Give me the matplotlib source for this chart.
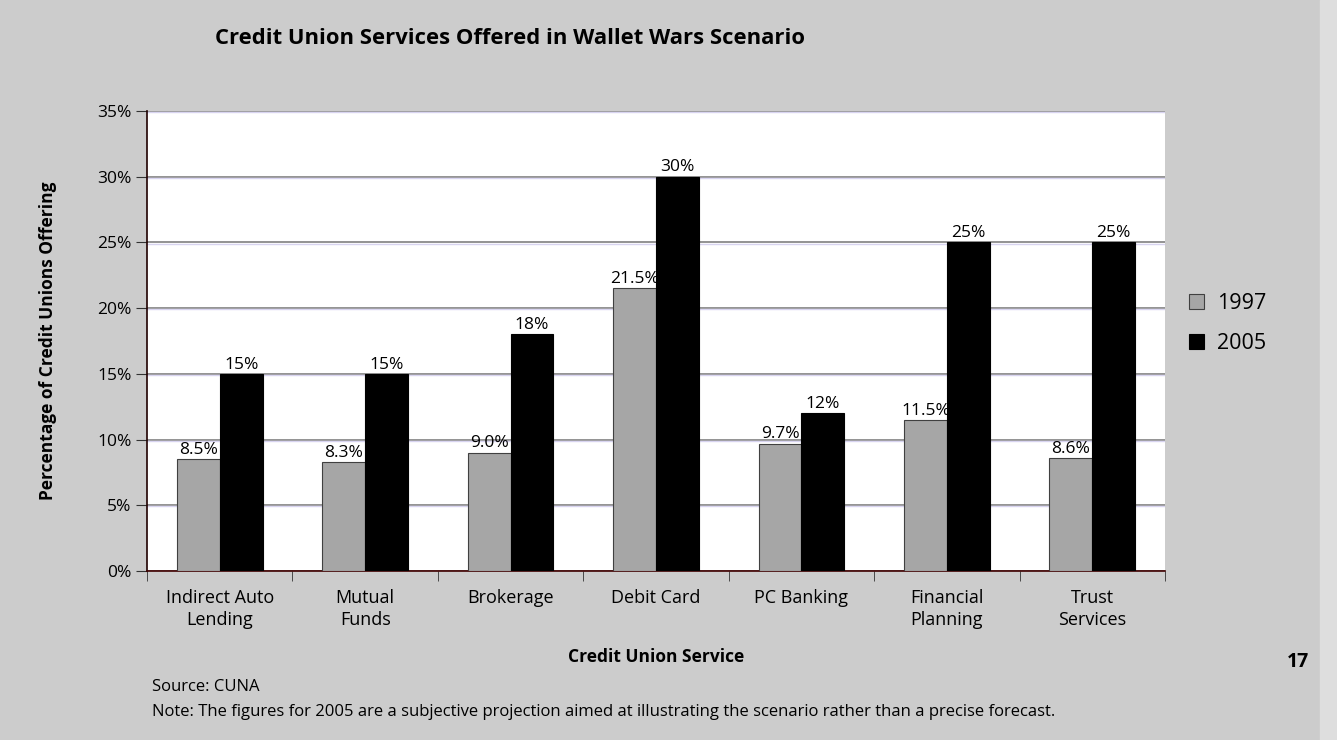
import matplotlib.pyplot as plt
import numpy as np
from matplotlib.ticker import FixedLocator, FuncFormatter

# Servicios y porcentajes de cooperativas que los ofrecen
services = ["Indirect Auto\nLending", "Mutual\nFunds", "Brokerage", "Debit Card",
            "PC Banking", "Financial\nPlanning", "Trust\nServices"]
pct_1997 = [8.5, 8.3, 9.0, 21.5, 9.7, 11.5, 8.6]
pct_2005 = [15, 15, 18, 30, 12, 25, 25]
labels_1997 = ["8.5%", "8.3%", "9.0%", "21.5%", "9.7%", "11.5%", "8.6%"]
labels_2005 = ["15%", "15%", "18%", "30%", "12%", "25%", "25%"]

plt.rcParams['font.family'] = ['Open Sans', 'DejaVu Sans']

fig = plt.figure(figsize=(13.37, 7.4), dpi=100)
fig.patch.set_facecolor('#cccccc')
# franja clara del borde derecho
fig.add_artist(plt.Rectangle((1320 / 1337, 0), 1 - 1320 / 1337, 1,
                             transform=fig.transFigure, color='#dedede', zorder=0))

ax = fig.add_axes([147 / 1337, 1 - 571 / 740, (1165 - 147) / 1337, (571 - 111) / 740])
ax.set_facecolor('white')

x = np.arange(len(services))
w = 0.295
b1 = ax.bar(x - w / 2, pct_1997, w, color='#a6a6a6', edgecolor='#404040', linewidth=0.8, zorder=3)
b2 = ax.bar(x + w / 2, pct_2005, w, color='black', edgecolor='black', linewidth=0.8, zorder=3)

for bar, lab in zip(b1, labels_1997):
    ax.text(bar.get_x() + bar.get_width() / 2, bar.get_height() + 0.1, lab,
            ha='center', va='bottom', fontsize=12.5)
for bar, lab in zip(b2, labels_2005):
    ax.text(bar.get_x() + bar.get_width() / 2, bar.get_height() + 0.1, lab,
            ha='center', va='bottom', fontsize=12.5)

ax.set_xlim(-0.5, len(services) - 0.5)
ax.set_ylim(0, 35)
ax.set_yticks(np.arange(0, 36, 5))
ax.yaxis.set_major_formatter(FuncFormatter(lambda v, p: f"{v:.0f}%"))
# linea gris con un filo lila debajo
for v in np.arange(5, 36, 5):
    ax.axhline(v - 0.09, color='#d8d4f0', linewidth=1.0, zorder=1)
ax.yaxis.grid(True, color='#808080', linewidth=1.2, zorder=1)
ax.set_axisbelow(True)

ax.set_xticks(x)
ax.set_xticklabels(services, fontsize=13, linespacing=1.25)
ax.xaxis.set_minor_locator(FixedLocator(np.arange(-0.5, len(services), 1.0)))
ax.tick_params(axis='x', which='major', length=0, pad=13)
ax.tick_params(axis='x', which='minor', length=7, direction='out', color='#333333')
ax.tick_params(axis='y', length=8, direction='out', labelsize=12.5, pad=3, color='#333333')

for side in ['top', 'right']:
    ax.spines[side].set_visible(False)
ax.spines['left'].set_color('#200000')
ax.spines['bottom'].set_color('#400000')
ax.spines['left'].set_linewidth(1.2)
ax.spines['bottom'].set_linewidth(1.2)

ax.set_xlabel("Credit Union Service", fontsize=12.5, fontweight='bold', labelpad=14)
ax.set_ylabel("Percentage of Credit Unions Offering", fontsize=12.5, fontweight='bold', labelpad=29)

leg = fig.legend([b1, b2], ["1997", "2005"], loc='upper left',
                 bbox_to_anchor=(1170 / 1337, 1 - 274 / 740), frameon=False,
                 fontsize=15.5, handlelength=0.7, handleheight=0.7, labelspacing=0.85,
                 handletextpad=0.6)

fig.text(215 / 1337, 1 - 39 / 740, "Credit Union Services Offered in Wallet Wars Scenario",
         fontsize=15.8, fontweight='bold', va='center', ha='left')
fig.text(152 / 1337, 1 - 687 / 740, "Source: CUNA", fontsize=12, va='center')
fig.text(152 / 1337, 1 - 712 / 740,
         "Note: The figures for 2005 are a subjective projection aimed at illustrating the scenario rather than a precise forecast.",
         fontsize=12, va='center')
fig.text(1298 / 1337, 1 - 662 / 740, "17", fontsize=14, fontweight='bold', ha='center', va='center')

plt.savefig('out.png', dpi=100, facecolor=fig.get_facecolor())
plt.close('all')
